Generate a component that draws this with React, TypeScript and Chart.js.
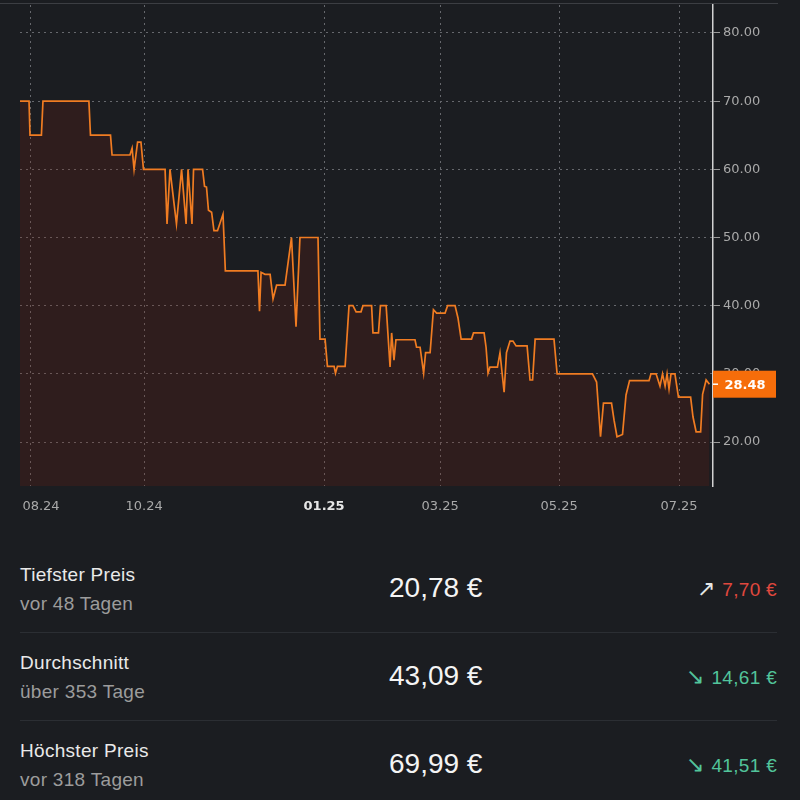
import React, { useEffect, useRef } from "react";
import { Chart, registerables } from "chart.js";

Chart.register(...registerables);

// ---- data ----
const days = [
  0, 4.6, 5.1, 10.9, 11.7, 35.1, 35.9, 46.1, 46.9, 56.0, 57.1, 58.1, 59.9, 61.6, 62.9,
  73.9, 74.9, 76.4, 79.7, 82.3, 84.6, 85.6, 87.6, 88.4, 93.0, 94.0, 95.0, 96.0, 97.6,
  98.8, 100.6, 103.4, 104.6, 121.2, 122.0, 122.8, 124.8, 127.4, 128.9, 130.7, 135.0,
  138.3, 140.6, 142.6, 151.8, 152.8, 155.4, 156.6, 160.0, 160.7, 161.7, 165.6, 167.6,
  169.6, 171.2, 173.7, 174.7, 179.1, 179.8, 182.6, 183.6, 186.5, 188.5, 189.3, 190.5,
  191.5, 201.2, 202.0, 203.8, 205.6, 206.6, 208.9, 210.6, 212.2, 216.5, 217.8, 221.6,
  223.1, 224.7, 230.0, 231.0, 236.4, 237.4, 238.4, 239.4, 243.2, 244.5, 246.6, 247.8,
  249.6, 251.1, 252.7, 258.3, 259.8, 261.1, 262.4, 272.0, 273.6, 291.6, 293.7, 295.7,
  297.2, 301.3, 302.6, 304.1, 306.9, 308.7, 310.5, 320.4, 321.4, 324.0, 326.0, 327.3,
  328.6, 329.6, 330.6, 331.6, 333.6, 335.4, 341.6, 342.8, 344.4, 346.7, 347.7, 349.5,
  351.2,
];
const prices = [
  69.99, 69.99, 65, 65, 69.99, 69.99, 65, 65, 62.1, 62.1, 63.1, 60, 64, 64, 60,
  60, 52, 60, 52, 60, 52, 60, 52, 60, 60, 57.5, 57.4, 54, 53.7,
  51, 51, 53.4, 45.1, 45.1, 39.2, 44.9, 44.6, 44.6, 41, 43, 43,
  50, 36.9, 50, 50, 35.1, 35.1, 31.1, 31.1, 30.1, 31.1, 31.1, 40,
  40, 39.1, 39.1, 40, 40, 36, 36, 40, 40, 31, 36, 32,
  35, 35, 33.9, 33.9, 30.1, 33.1, 33.1, 39.4, 38.9, 38.9, 40, 40,
  38.2, 35.1, 35.1, 36, 36, 33.9, 30.1, 31, 31, 33.1, 27.3, 33.1,
  34.8, 34.8, 34.1, 34.1, 29.1, 29.1, 35.1, 35.1, 30, 30, 28.8, 20.78,
  25.7, 25.7, 23.2, 20.78, 21.1, 26.9, 29, 29, 30, 30, 28.2, 30,
  28.2, 30, 27.8, 30, 30, 26.6, 26.6, 23.7, 21.5, 21.5, 27, 29.1,
  28.48,
];
// grid line positions (days) and where their labels sit
const xTickDays = [5.1, 63.2, 154.9, 214, 274.6, 335.7];
const xLabelDays = [10.7, 63.2, 154.9, 214, 274.6, 335.7];
const xTickLabels = ["08.24", "10.24", "01.25", "03.25", "05.25", "07.25"];
const yTicks = [20, 30, 40, 50, 60, 70, 80];

const statTitles = ["Tiefster Preis", "Durchschnitt", "Höchster Preis"];
const statSubs = ["vor 48 Tagen", "über 353 Tage", "vor 318 Tagen"];
const statValues = ["20,78 €", "43,09 €", "69,99 €"];
const statArrows = ["↗", "↘", "↘"];
const statDiffs = ["7,70 €", "14,61 €", "41,51 €"];
const statUp = [true, false, false];

const BG = "#1b1d21";
const LINE = "#f07c22";
const BOX = "#f66d0a";
const GRID = "#66686d";

const priceLabelPlugin = {
  id: "priceLabel",
  afterDraw(chart: any) {
    const { ctx, chartArea, scales } = chart;
    const last = prices[prices.length - 1];
    const y = scales.y.getPixelForValue(last);
    const x0 = chartArea.right;
    ctx.save();
    ctx.fillStyle = BOX;
    ctx.fillRect(x0, y - 13.5, 63, 27);
    ctx.strokeStyle = "#ffffff";
    ctx.lineWidth = 1.5;
    ctx.beginPath();
    ctx.moveTo(x0, y);
    ctx.lineTo(x0 + 5, y);
    ctx.stroke();
    ctx.fillStyle = "#ffffff";
    ctx.font = "bold 13px 'DejaVu Sans'";
    ctx.textAlign = "center";
    ctx.textBaseline = "middle";
    ctx.fillText(last.toFixed(2), x0 + 32, y + 1);
    ctx.restore();
  },
};

function PriceChart() {
  const ref = useRef<HTMLCanvasElement | null>(null);
  useEffect(() => {
    if (!ref.current) return;
    const points = days.map((d, i) => ({ x: d, y: prices[i] }));
    const chart = new Chart(ref.current, {
      type: "line",
      data: {
        datasets: [
          {
            data: points,
            borderColor: LINE,
            borderWidth: 1.7,
            pointRadius: 0,
            tension: 0,
            fill: "start",
            backgroundColor: "rgba(115, 30, 16, 0.23)",
          },
        ],
      },
      options: {
        responsive: false,
        animation: false,
        layout: { padding: { left: 20, top: 5, right: 0, bottom: 0 } },
        plugins: { legend: { display: false }, tooltip: { enabled: false } },
        scales: {
          x: {
            type: "linear",
            position: "bottom",
            min: 0,
            max: 353,
            afterBuildTicks: (s: any) => {
              s.ticks = xTickDays.map((v) => ({ value: v }));
            },
            afterFit: (s: any) => {
              s.height = 0;
              s.paddingLeft = 0;
              s.paddingRight = 0;
            },
            ticks: { display: false, autoSkip: false },
            grid: { color: GRID, drawTicks: false, lineWidth: 1 },
            border: { display: false, dash: [2, 4] },
          },
          x2: {
            type: "linear",
            position: "bottom",
            min: 0,
            max: 353,
            afterBuildTicks: (s: any) => {
              s.ticks = xLabelDays.map((v) => ({ value: v }));
            },
            afterFit: (s: any) => {
              s.height = 34;
              s.paddingLeft = 0;
              s.paddingRight = 0;
            },
            ticks: {
              autoSkip: false,
              maxRotation: 0,
              padding: 13,
              callback: (_v: any, i: number) => xTickLabels[i],
              color: (c: any) => (c.index === 2 ? "#e6e6e6" : "#a9a9a9"),
              font: (c: any) => ({
                family: "'DejaVu Sans'",
                size: 13,
                weight: c.index === 2 ? "bold" : "normal",
              }),
            },
            grid: { display: false, drawTicks: false },
            border: { display: false },
          },
          y: {
            position: "right",
            min: 13.55,
            max: 84.1,
            afterBuildTicks: (s: any) => {
              s.ticks = yTicks.map((v) => ({ value: v }));
            },
            afterFit: (s: any) => {
              s.width = 87;
              s.paddingTop = 0;
              s.paddingBottom = 0;
            },
            ticks: {
              padding: 3,
              callback: (v: any) => Number(v).toFixed(2),
              color: "#a9a9a9",
              font: { family: "'DejaVu Sans'", size: 13 },
            },
            grid: {
              color: GRID,
              drawTicks: true,
              tickLength: 7,
              tickColor: "#9a9a9a",
              tickWidth: 1,
              tickBorderDash: [],
            },
            border: { display: true, color: "#d2d2d2", width: 1.5, dash: [2, 4] },
          },
        },
      },
      plugins: [priceLabelPlugin],
    } as any);
    return () => chart.destroy();
  }, []);
  return <canvas ref={ref} width={800} height={520} style={{ display: "block" }} />;
}

function baselineTop(baseline: number, size: number) {
  return baseline - 0.8465 * size;
}

export default function App() {
  const font = "'Liberation Sans', Arial, sans-serif";
  const small = 19;
  return (
    <div
      style={{
        position: "absolute",
        left: 0,
        top: 0,
        width: 800,
        height: 800,
        background: BG,
        overflow: "hidden",
        fontFamily: font,
      }}
    >
      <div style={{ position: "absolute", left: 0, top: 0 }}>
        <PriceChart />
      </div>
      <div
        style={{ position: "absolute", left: 0, top: 3, width: 778, height: 1, background: "#3c3e43" }}
      />
      {statTitles.map((t, i) => {
        const b = 581 + i * 88;
        return (
          <React.Fragment key={t}>
            <div
              style={{
                position: "absolute",
                left: 20,
                top: baselineTop(b, small),
                fontSize: small,
                lineHeight: small + "px",
                letterSpacing: 0.3,
                color: "#e9e9e9",
                whiteSpace: "nowrap",
              }}
            >
              {t}
            </div>
            <div
              style={{
                position: "absolute",
                left: 20,
                top: baselineTop(b + 29, small),
                fontSize: small,
                lineHeight: small + "px",
                letterSpacing: 0.3,
                color: "#9c9c9c",
                whiteSpace: "nowrap",
              }}
            >
              {statSubs[i]}
            </div>
            <div
              style={{
                position: "absolute",
                left: 389,
                top: baselineTop(b + 17, 28),
                fontSize: 28,
                lineHeight: "28px",
                color: "#f4f4f4",
                whiteSpace: "nowrap",
              }}
            >
              {statValues[i]}
            </div>
            <div
              style={{
                position: "absolute",
                right: 23,
                top: baselineTop(b + 14, small),
                fontSize: small,
                lineHeight: small + "px",
                letterSpacing: 0.3,
                whiteSpace: "nowrap",
                color: statUp[i] ? "#e0483e" : "#52c49b",
              }}
            >
              <span
                style={{
                  color: statUp[i] ? "#e6e6e6" : "#52c49b",
                  marginRight: 7,
                  fontSize: 22,
                }}
              >
                {statArrows[i]}
              </span>
              {statDiffs[i]}
            </div>
            {i < 2 && (
              <div
                style={{
                  position: "absolute",
                  left: 20,
                  top: 632 + i * 88,
                  width: 757,
                  height: 1,
                  background: "#2b2e33",
                }}
              />
            )}
          </React.Fragment>
        );
      })}
    </div>
  );
}
